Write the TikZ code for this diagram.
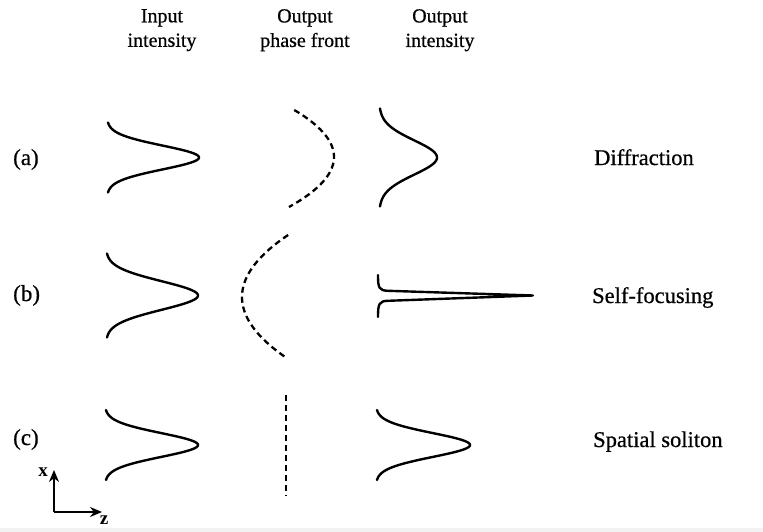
\documentclass[tikz,border=0pt]{standalone}
\usepackage{fontspec}
\setmainfont{Liberation Serif}
\usetikzlibrary{arrows.meta}
\newcommand\gprof[5]{%
  \draw[prof] plot[domain=-1:1, samples=121, smooth]
    ({#1+(#2-#1)*(exp(-(\x*\x)/(2*#5*#5))-exp(-1/(2*#5*#5)))/(1-exp(-1/(2*#5*#5)))}, {#3+#4*\x});}
\begin{document}
\begin{tikzpicture}[x=1pt,y=-1pt,
  prof/.style={line width=2.4pt, line cap=round, line join=round},
  phase/.style={line width=2.3pt, dash pattern=on 6pt off 4pt},
  head/.style={font=\fontsize{20}{24.5}\selectfont\addfontfeatures{FakeBold=0.6}, align=center, anchor=north, inner sep=0pt},
  lab/.style={font=\fontsize{22.5}{26}\selectfont\addfontfeatures{FakeBold=0.6}, anchor=base west, inner sep=0pt},
  rowlab/.style={font=\fontsize{23}{26}\selectfont\addfontfeatures{FakeBold=0.6}, anchor=base west, inner sep=0pt},
  axlab/.style={font=\bfseries\fontsize{19}{21}\selectfont, inner sep=0pt},
  ax/.style={line width=2pt, -{Stealth[length=12pt,width=10pt]}}
]
\useasboundingbox (0,0) rectangle (763,532);
\fill[gray!10] (0,528) rectangle (763,532);

% headers
\node[head] (h1) at (162,9) {Input\\intensity};
\node[head] (h2) at (305,9) {Output\\phase front};
\node[head] (h3) at (440,9) {Output\\intensity};

% row labels
\node[rowlab] (ra) at (13,165) {(a)};
\node[rowlab] (rb) at (13,301) {(b)};
\node[rowlab] (rc) at (13,445) {(c)};

% right labels
\node[lab] (la) at (594,165) {Diffraction};
\node[lab] (lb) at (592,303) {Self-focusing};
\node[lab] (lc) at (593,447) {Spatial soliton};

% row (a)
\gprof{108}{199}{157.5}{35}{0.34}
\draw[phase] plot[domain=110:207, samples=60, smooth] ({334-0.018*(\x-157)^2}, \x);
\gprof{380}{437}{157.5}{49}{0.35}

% row (b)
\gprof{107}{198}{295.5}{42}{0.34}
\draw[phase] plot[domain=235:357, samples=60, smooth] ({242+0.012*(\x-297)^2}, \x);
\draw[prof] (378,275) .. controls (378,288) and (379,290.5) .. (388,290.8)
  -- (533,295.5) -- (388,300.8) .. controls (379,301) and (378,304) .. (378,317);

% row (c)
\gprof{106}{198}{445}{35}{0.34}
\draw[phase] (286,395) -- (286,496);
\gprof{377}{470}{445}{35}{0.34}

% axes
\coordinate (O) at (54,512);
\coordinate (xt) at (54,470);
\coordinate (zt) at (102,512);
\draw[ax] (O) -- (xt);
\draw[ax] (O) -- (zt);
\node[axlab] (xl) at (43,472) {x};
\node[axlab] (zl) at (104,520) {z};
\end{tikzpicture}
\end{document}
